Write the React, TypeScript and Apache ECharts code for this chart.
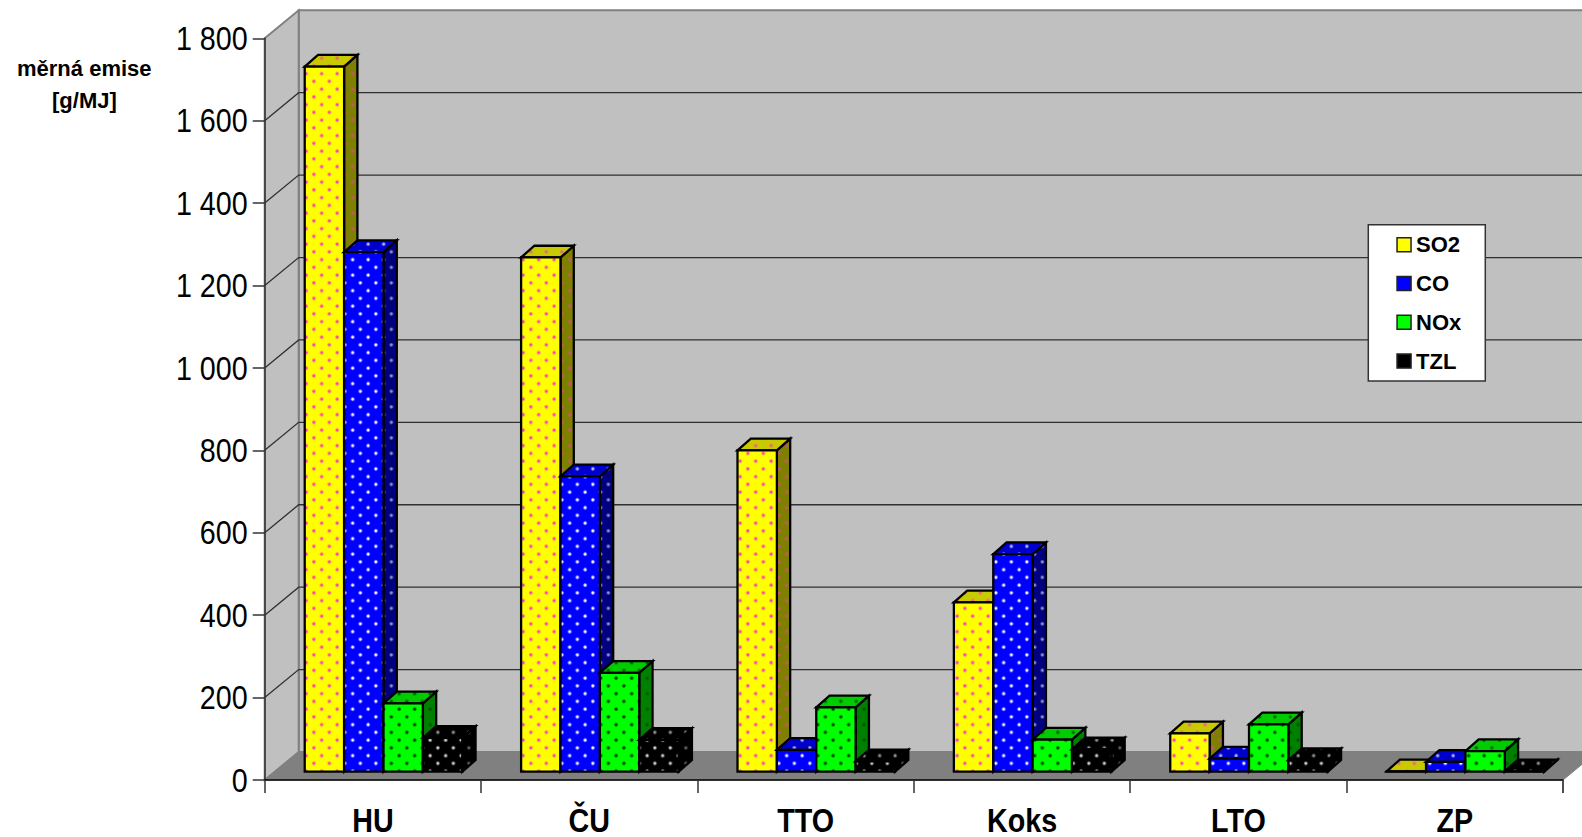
import React, { useEffect, useRef } from "react";
import * as echarts from "echarts";

const categories = ["HU", "ČU", "TTO", "Koks", "LTO", "ZP"];
const so2 = [1711, 1248, 780, 411, 93, 1];
const co = [1261, 717, 53, 528, 32, 24];
const nox = [166, 240, 156, 78, 115, 50];
const tzl = [82, 77, 25, 54, 28, 1];
const yTicks = [0, 200, 400, 600, 800, 1000, 1200, 1400, 1600, 1800];
const yTickLabels = ["0", "200", "400", "600", "800", "1 000", "1 200", "1 400", "1 600", "1 800"];
const seriesNames = ["SO2", "CO", "NOx", "TZL"];
const seriesValues = [so2, co, nox, tzl];
const palettes = [
  { front: "#ffff00", top: "#c9c900", side: "#808000", dot: "#ff33cc" },
  { front: "#0000ff", top: "#0000cc", side: "#000080", dot: "#ffffff" },
  { front: "#00ff00", top: "#00cc00", side: "#008000", dot: "#003300" },
  { front: "#000000", top: "#000000", side: "#000000", dot: "#d8d8d8" },
];

const GRID_LEFT = 264.7;
const GRID_TOP = 38.3;
const GRID_W = 1298.3;
const GRID_H = 741.7;
const WALL_DX = 34;
const WALL_DY = 28;
const BAR_INSET_X = 10.6;
const BAR_INSET_Y = 8.3;
const BAR_DX = 13.3;
const BAR_DY = 11.7;
const BAR_FRACTION = 0.182;
const TILE = 15.4;
const LABEL_SIZE = 28.7;
const LABEL_STRETCH = 1.13;

function pattern(bg: string, dot: string, dotAlpha = 1) {
  const k = 4;
  const size = Math.round(TILE * k);
  const c = document.createElement("canvas");
  c.width = size;
  c.height = size;
  const g = c.getContext("2d")!;
  g.fillStyle = bg;
  g.fillRect(0, 0, size, size);
  g.globalAlpha = dotAlpha;
  g.fillStyle = dot;
  [
    [size / 4, size / 4],
    [(3 * size) / 4, (3 * size) / 4],
  ].forEach(([x, y]) => {
    g.beginPath();
    g.arc(x, y, 1.6 * k, 0, Math.PI * 2);
    g.fill();
  });
  return {
    image: c,
    repeat: "repeat",
    imageWidth: size,
    imageHeight: size,
    scaleX: 1 / k,
    scaleY: 1 / k,
  };
}

export default function App() {
  const ref = useRef<HTMLDivElement>(null);
  useEffect(() => {
    document.body.style.margin = "0";
    const chart = echarts.init(ref.current!, undefined, { renderer: "svg" });

    const fills = palettes.map((p, i) => ({
      front: pattern(p.front, p.dot),
      top: pattern(p.top, p.dot, i === 3 ? 0.7 : 0.75),
      side: pattern(p.side, p.dot, i === 3 ? 0.45 : 0.6),
    }));

    const wallSeries = {
      type: "custom",
      name: "walls",
      clip: false,
      silent: true,
      data: [[0, 0]],
      encode: { x: 0, y: 1 },
      renderItem: (_p: any, api: any) => {
        const w = api.size([1, 0])[0];
        const x0 = api.coord([0, 0])[0] - w / 2;
        const x1 = api.coord([categories.length - 1, 0])[0] + w / 2;
        const y0 = api.coord([0, 0])[1];
        const yT = api.coord([0, yTicks[yTicks.length - 1]])[1];
        const children: any[] = [
          {
            type: "polygon",
            shape: { points: [[x0 + WALL_DX, yT - WALL_DY], [x1 + WALL_DX, yT - WALL_DY], [x1 + WALL_DX, y0 - WALL_DY], [x0 + WALL_DX, y0 - WALL_DY]] },
            style: { fill: "#c0c0c0", stroke: "#808080", lineWidth: 2 },
          },
          {
            type: "polygon",
            shape: { points: [[x0, yT], [x0 + WALL_DX, yT - WALL_DY], [x0 + WALL_DX, y0 - WALL_DY], [x0, y0]] },
            style: { fill: "#c0c0c0", stroke: "#808080", lineWidth: 2 },
          },
          {
            type: "polygon",
            shape: { points: [[x0, y0], [x0 + WALL_DX, y0 - WALL_DY], [x1 + WALL_DX, y0 - WALL_DY], [x1, y0]] },
            style: { fill: "#808080", stroke: "#808080", lineWidth: 1 },
          },
        ];
        yTicks.forEach((t) => {
          if (t === 0 || t === yTicks[yTicks.length - 1]) return;
          const y = api.coord([0, t])[1];
          children.push({
            type: "polyline",
            shape: { points: [[x0, y], [x0 + WALL_DX, y - WALL_DY], [x1 + WALL_DX, y - WALL_DY]] },
            style: { fill: "none", stroke: "#303030", lineWidth: 1.3 },
          });
        });
        children.push({
          type: "line",
          shape: { x1: x1, y1: y0, x2: x1, y2: y0 + 13 },
          style: { stroke: "#808080", lineWidth: 1.5 },
        });
        yTicks.forEach((t, i) => {
          children.push({
            type: "text",
            x: x0 - 17,
            y: api.coord([0, t])[1],
            scaleY: LABEL_STRETCH,
            style: {
              text: yTickLabels[i],
              fontFamily: "Liberation Sans",
              fontSize: LABEL_SIZE,
              fill: "#000",
              align: "right",
              verticalAlign: "middle",
            },
          });
        });
        categories.forEach((c, i) => {
          children.push({
            type: "text",
            x: api.coord([i, 0])[0],
            y: y0 + 40,
            scaleY: LABEL_STRETCH,
            style: {
              text: c,
              fontFamily: "Liberation Sans",
              fontSize: LABEL_SIZE,
              fontWeight: "bold",
              fill: "#000",
              align: "center",
              verticalAlign: "middle",
            },
          });
        });
        return { type: "group", children };
      },
    };

    const barSeries = seriesNames.map((name, si) => ({
      type: "custom",
      name,
      clip: false,
      silent: true,
      itemStyle: { color: palettes[si].front },
      data: seriesValues[si].map((v, i) => [i, v]),
      encode: { x: 0, y: 1 },
      renderItem: (_p: any, api: any) => {
        const i = api.value(0);
        const v = api.value(1);
        const w = api.size([1, 0])[0];
        const bw = w * BAR_FRACTION;
        const cx = api.coord([i, 0])[0];
        const left = cx - 2 * bw + BAR_INSET_X + si * bw;
        const right = left + bw;
        const base = api.coord([i, 0])[1] - BAR_INSET_Y;
        const top = api.coord([i, v])[1] - BAR_INSET_Y;
        const stroke = { stroke: "#000", lineWidth: 2.3, lineJoin: "miter" };
        return {
          type: "group",
          children: [
            {
              type: "polygon",
              shape: { points: [[right, top], [right + BAR_DX, top - BAR_DY], [right + BAR_DX, base - BAR_DY], [right, base]] },
              style: { fill: fills[si].side, ...stroke },
            },
            {
              type: "polygon",
              shape: { points: [[left, top], [left + BAR_DX, top - BAR_DY], [right + BAR_DX, top - BAR_DY], [right, top]] },
              style: { fill: fills[si].top, ...stroke },
            },
            {
              type: "polygon",
              shape: { points: [[left, top], [right, top], [right, base], [left, base]] },
              style: { fill: fills[si].front, ...stroke },
            },
          ],
        };
      },
    }));

    chart.setOption({
      animation: false,
      backgroundColor: "#ffffff",
      textStyle: { fontFamily: "Liberation Sans" },
      grid: { left: GRID_LEFT, top: GRID_TOP, width: GRID_W, height: GRID_H, containLabel: false },
      xAxis: {
        type: "category",
        data: categories,
        boundaryGap: true,
        z: 3,
        axisLine: { show: true, lineStyle: { color: "#000", width: 1.5 } },
        axisTick: { show: true, length: 13, lineStyle: { color: "#333", width: 1.5 } },
        axisLabel: { show: false },
      },
      yAxis: {
        type: "value",
        min: 0,
        max: 1800,
        interval: 200,
        z: 3,
        splitLine: { show: false },
        axisLine: { show: true, lineStyle: { color: "#333", width: 1.5 } },
        axisTick: { show: true, length: 12, lineStyle: { color: "#333", width: 1.5 } },
        axisLabel: { show: false },
      },
      legend: {
        orient: "vertical",
        left: 1368.3,
        top: 224.7,
        padding: [9, 24, 9, 28],
        itemWidth: 14,
        itemHeight: 14,
        itemGap: 16.8,
        backgroundColor: "#ffffff",
        borderColor: "#333",
        borderWidth: 1.5,
        selectedMode: false,
        textStyle: { fontFamily: "Liberation Sans", fontSize: 22, fontWeight: "bold", color: "#000" },
        data: seriesNames.map((name, i) => ({
          name,
          icon: "rect",
          itemStyle: { color: palettes[i].front, borderColor: "#222", borderWidth: 1.5 },
        })),
      },
      graphic: [
        {
          type: "text",
          left: 17,
          top: 57,
          style: { text: "měrná emise", fontFamily: "Liberation Sans", fontSize: 22, fontWeight: "bold", fill: "#000" },
        },
        {
          type: "text",
          left: 52,
          top: 89,
          style: { text: "[g/MJ]", fontFamily: "Liberation Sans", fontSize: 22, fontWeight: "bold", fill: "#000" },
        },
      ],
      series: [wallSeries, ...barSeries],
    });
    return () => chart.dispose();
  }, []);
  return <div ref={ref} style={{ width: 1582, height: 837 }} />;
}
